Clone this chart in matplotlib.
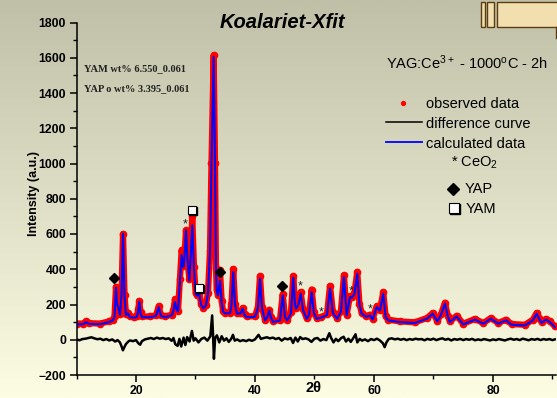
import numpy as np
import matplotlib
matplotlib.use("Agg")
import matplotlib.pyplot as plt
from matplotlib.patches import Rectangle
from matplotlib.lines import Line2D

plt.rcParams['font.family'] = ['Liberation Sans', 'DejaVu Sans']
plt.rcParams['mathtext.fontset'] = 'custom'
plt.rcParams['mathtext.rm'] = 'Liberation Sans'
plt.rcParams['mathtext.it'] = 'Liberation Sans:italic'
plt.rcParams['mathtext.bf'] = 'Liberation Sans:bold'

# ---------------- data ----------------
two_theta = [10.0, 11.1, 11.6, 12.1, 13.95, 15.46, 16.13, 16.39, 16.64, 16.81, 16.97, 17.31, 17.56, 17.82,
             18.07, 18.32, 18.66, 18.99, 19.66, 20.17, 20.39, 20.55, 20.76, 21.01, 22.35, 23.36, 23.82,
             24.2, 24.87, 26.0, 26.3, 26.55, 26.84, 27.06, 27.39, 27.68, 27.95, 28.12, 28.4, 28.66,
             28.96, 29.16, 29.46, 29.75, 30.03, 30.25, 30.59, 30.92, 31.31, 31.76, 32.1, 32.44, 32.69,
             33.06, 33.28, 33.45, 33.56, 33.78, 34.12, 34.4, 34.62, 34.96, 35.8, 36.05, 36.35, 36.64,
             36.97, 37.56, 37.93, 38.24, 38.61, 40.0, 40.5, 40.84, 41.18, 41.68, 42.1, 42.4, 42.69,
             43.08, 44.2, 44.66, 45.04, 45.43, 46.05, 46.44, 46.72, 46.89, 47.31, 47.68, 48.07, 48.69,
             49.08, 49.53, 49.92, 50.37, 51.09, 52.1, 52.61, 53.11, 53.83, 54.45, 54.96, 55.41, 55.97,
             56.3, 56.72, 57.19, 57.56, 57.93, 58.66, 59.33, 59.78, 60.45, 61.01, 61.56, 61.97, 62.4,
             64.37, 66.89, 68.96, 69.87, 70.64, 71.26, 71.93, 72.44, 72.77, 73.9, 75.01, 76.97, 78.37,
             79.66, 80.89, 82.18, 83.14, 85.38, 86.72, 87.34, 87.73, 88.18, 88.91, 89.58, 90.42]

calculated = [87, 88, 100, 90, 88, 100, 110, 130, 295, 200, 190, 140, 250, 602,
              250, 140, 150, 128, 125, 130, 170, 215, 150, 128, 128, 135, 185,
              135, 128, 138, 165, 214, 170, 160, 337, 480, 413, 450, 621, 450,
              337, 450, 649, 400, 260, 250, 265, 200, 178, 195, 260, 500, 1000,
              1605, 1000, 400, 280, 250, 337, 214, 160, 150, 150, 200, 384, 200,
              148, 150, 176, 140, 128, 130, 180, 347, 180, 110, 130, 166, 125,
              100, 110, 252, 130, 110, 150, 352, 200, 176, 200, 261, 170, 119,
              140, 270, 150, 119, 125, 140, 290, 150, 119, 160, 356, 138, 242,
              240, 260, 375, 200, 148, 130, 138, 115, 185, 166, 261, 128, 110,
              100, 95, 120, 148, 104, 140, 205, 130, 100, 132, 87, 114, 91,
              119, 91, 110, 85, 81, 110, 148, 120, 96, 114, 100, 72]

observed = [92, 92, 104, 94, 92, 104, 114, 134, 300, 205, 195, 144, 255, 600,
            255, 144, 154, 132, 129, 134, 175, 220, 155, 132, 132, 139, 190,
            139, 132, 142, 170, 230, 175, 165, 345, 510, 420, 455, 620, 455,
            345, 460, 700, 410, 265, 255, 290, 205, 182, 200, 265, 505, 1005,
            1615, 1005, 405, 285, 255, 393, 220, 165, 154, 154, 205, 400, 205,
            152, 154, 180, 144, 132, 134, 185, 360, 185, 114, 134, 170, 129,
            104, 114, 258, 134, 114, 155, 360, 205, 180, 205, 270, 175, 123,
            144, 285, 155, 123, 129, 144, 305, 155, 123, 165, 365, 142, 247,
            245, 265, 385, 205, 152, 134, 142, 119, 190, 170, 270, 132, 114,
            104, 99, 124, 152, 108, 144, 210, 134, 104, 136, 91, 118, 95,
            123, 95, 114, 89, 85, 114, 152, 124, 100, 118, 104, 76]

diff_x = [10.0, 10.5, 11.0, 11.5, 12.0, 12.5, 13.0, 13.5, 14.0, 14.5, 15.0, 15.5, 16.0, 16.5, 16.9,
          17.3, 17.6, 17.8, 18.0, 18.3, 18.7, 19.0, 19.5, 20.0, 20.4, 20.7, 21.0, 21.5, 22.0, 22.5,
          23.0, 23.5, 24.0, 24.5, 25.0, 25.5, 26.0, 26.3, 26.6, 27.0, 27.3, 27.6, 28.0, 28.3, 28.6,
          29.0, 29.4, 29.7, 30.0, 30.5, 31.0, 31.5, 32.0, 32.5, 32.8, 32.95, 33.1, 33.3, 33.6, 34.0,
          34.4, 34.8, 35.2, 35.6, 36.0, 36.3, 36.6, 37.0, 37.5, 38.0, 38.5, 39.0, 39.5, 40.0, 40.6,
          41.0, 41.5, 42.0, 42.5, 43.0, 43.5, 44.0, 44.5, 45.0, 45.5, 46.0, 46.4, 46.8, 47.2, 47.6,
          48.0, 48.5, 49.0, 49.5, 50.0, 50.5, 51.0, 51.5, 52.0, 52.5, 52.8, 53.2, 53.6, 54.0, 54.5,
          54.9, 55.3, 55.7, 56.1, 56.5, 56.9, 57.2, 57.6, 58.0, 58.5, 59.0, 59.5, 60.0, 60.5, 61.0,
          61.5, 61.8, 62.1, 62.5, 63.0, 63.5, 64.0, 64.5, 65.0, 65.5, 66.0, 66.5, 67.0, 67.5, 68.0,
          68.5, 69.0, 69.5, 70.0, 70.5, 71.0, 71.5, 72.0, 72.5, 73.0, 73.5, 74.0, 74.5, 75.0, 75.5,
          76.0, 76.5, 77.0, 77.5, 78.0, 78.5, 79.0, 79.5, 80.0, 80.5, 81.0, 81.5, 82.0, 82.5, 83.0,
          83.5, 84.0, 84.5, 85.0, 85.5, 86.0, 86.5, 87.0, 87.5, 88.0, 88.5, 89.0, 89.5, 90.0, 90.4]
difference = [2, -3, 4, 6, 10, 14, 8, 3, 6, -2, 4, -4, 2, -10, -2,
              -15, -40, -60, -45, -25, -10, -4, -8, -2, -20, -28, -8, 2, 6, 10,
              4, 12, 6, 10, 4, 8, -6, 10, -25, -35, 5, -38, 12, -30, 15,
              -10, 50, -5, 8, -15, 5, 12, -5, 20, 138, 30, -108, 10, 25, -15,
              20, -5, 8, -12, 5, 28, -5, 2, -8, -2, -8, 0, -6, 2, 28,
              5, 10, 14, 8, 12, 4, 10, -5, 8, 2, 10, -18, 12, -10, 15,
              4, 8, 2, -12, 6, 10, -5, 4, -2, 37, 10, -15, 5, -8, 10,
              17, -10, 6, -12, 8, 31, -15, 5, -5, 2, -8, 4, -2, 6, -4,
              -20, -42, -15, 5, 8, 2, 6, 0, 5, -2, 4, 0, 6, 2, 4,
              -3, 5, 0, 6, -2, 4, 8, 0, 5, -4, 4, 0, 5, -2, 4,
              0, 5, -3, 2, -2, 4, 0, -4, 2, -2, 4, 0, -4, 2, 6,
              0, 4, -2, 6, 2, -3, 4, 0, 5, -2, 4, 0, 4, -2, 2]

yap_x = [16.3, 34.1, 44.54]
yap_y = [350, 384, 305]
yam_x = [29.36, 30.6]
yam_y = [739, 295]
ceo2_x = [28.35, 47.56, 51.09, 56.14, 59.33]
ceo2_y = [653, 305, 157, 276, 170]

xticks_major = [20, 40, 60, 80]
yticks_major = [-200, 0, 200, 400, 600, 800, 1000, 1200, 1400, 1600, 1800]

# ---------------- figure ----------------
W, H = 557, 398
fig = plt.figure(figsize=(W / 100, H / 100), dpi=100)

def fx(px):
    return px / W

def fy(py):
    return 1 - py / H

# background gradient
bg = fig.add_axes([0, 0, 1, 1], zorder=-10)
top = np.array([192, 192, 168]) / 255
bot = np.array([253, 253, 228]) / 255
t = np.linspace(0, 1, 256)[:, None]
grad = (top[None, :] * (1 - t) + bot[None, :] * t)[:, None, :]
bg.imshow(grad, aspect='auto', extent=[0, 1, 0, 1])
bg.set_axis_off()

ax = fig.add_axes([fx(76.5), fy(375), fx(556) - fx(76.5), fy(22.5) - fy(375)])
ax.set_facecolor('none')
ax.set_xlim(10, 90.6)
ax.set_ylim(-200, 1800)

ax.plot(two_theta, observed, color='#ff0000', lw=4.5, solid_capstyle='round',
        solid_joinstyle='round', zorder=2)
ax.plot(two_theta, observed, 'o', color='#ff0000', ms=4.5, zorder=2)
ax.plot(two_theta, calculated, color='#0000ff', lw=1.5, zorder=4)
ax.plot(diff_x, difference, color='black', lw=1.8, zorder=4)

# phase markers
ax.plot(yap_x, yap_y, 'D', color='black', ms=5, zorder=5)
shadow = ax.transData + matplotlib.transforms.ScaledTranslation(1 / 100, -1 / 100, fig.dpi_scale_trans)
for x, y in zip(yam_x, yam_y):
    ax.plot([x], [y], 's', color='black', ms=6, zorder=5, transform=shadow)
    ax.plot([x], [y], 's', mfc='white', mec='black', mew=0.8, ms=6, zorder=6)
for x, y in zip(ceo2_x, ceo2_y):
    ax.text(x, y, '*', ha='center', va='center', fontsize=9, color='#222222', zorder=6)

for s in ['top', 'right']:
    ax.spines[s].set_visible(False)
for s in ['left', 'bottom']:
    ax.spines[s].set_linewidth(1.1)

ax.set_xticks(xticks_major)
ax.set_xticks([10, 30, 50, 70, 90], minor=True)
ax.set_yticks(yticks_major)
ax.set_yticks(np.arange(-100, 1800, 200), minor=True)
ax.tick_params(which='major', direction='out', length=5, width=1.1, pad=2.5, labelsize=8.8)
ax.tick_params(which='minor', direction='out', length=3, width=1.0)
for lab in ax.get_xticklabels() + ax.get_yticklabels():
    lab.set_fontweight('bold')

# texts
fig.text(fx(282), fy(22), 'Koalariet-Xfit', ha='center', va='center', fontsize=14.5,
         fontweight='bold', fontstyle='italic')
fig.text(fx(34), fy(194), 'Intensity (a.u.)', rotation=90, ha='center', va='center',
         fontsize=9, fontweight='bold')
fig.text(fx(313.5), fy(388), '2θ', ha='center', va='center', fontsize=10.5, fontweight='bold')

fig.text(fx(84), fy(69), 'YAM wt% 6.550_0.061', ha='left', va='center', fontsize=7.5,
         fontweight='bold', family=['Liberation Serif', 'DejaVu Serif'], color='#222222')
fig.text(fx(84), fy(89), 'YAP o wt% 3.395_0.061', ha='left', va='center', fontsize=7.5,
         fontweight='bold', family=['Liberation Serif', 'DejaVu Serif'], color='#222222')

# legend-like block
fs = 10.5
fig.text(fx(386), fy(68.5), r'YAG:Ce$^{3+}$ - 1000$^{\mathrm{o}}$C - 2h', ha='left', va='baseline', fontsize=fs)
fig.add_artist(Line2D([fx(403)], [fy(103)], marker='o', color='red', ms=2.8, lw=0))
fig.text(fx(425.7), fy(107.7), 'observed data', ha='left', va='baseline', fontsize=fs)
fig.add_artist(Line2D([fx(385.7), fx(421.7)], [fy(122.3), fy(122.3)], color='black', lw=1.1))
fig.text(fx(425.7), fy(128.2), 'difference curve', ha='left', va='baseline', fontsize=fs)
fig.add_artist(Line2D([fx(385.7), fx(421.7)], [fy(142.3), fy(142.3)], color='blue', lw=1.3))
fig.text(fx(425.7), fy(148.3), 'calculated data', ha='left', va='baseline', fontsize=fs)
fig.text(fx(451), fy(166.7), r'* CeO$_{2}$', ha='left', va='baseline', fontsize=fs)
fig.add_artist(Line2D([fx(452.7)], [fy(188.7)], marker='D', color='black', ms=6.5, lw=0))
fig.text(fx(465), fy(193.3), 'YAP', ha='left', va='baseline', fontsize=fs)
fig.add_artist(Line2D([fx(455)], [fy(209.3)], marker='s', color='black', ms=7, lw=0))
fig.add_artist(Line2D([fx(454)], [fy(208.3)], marker='s', mfc='white', mec='black', mew=0.8, ms=7, lw=0))
fig.text(fx(466), fy(213.3), 'YAM', ha='left', va='baseline', fontsize=fs)

# top-right clipped window shapes
fill = '#f2dfb0'
edge = '#5c3d12'
for x0, x1 in [(481, 485), (487, 494), (496.7, 570)]:
    fig.add_artist(Rectangle((fx(x0), fy(27.3)), fx(x1) - fx(x0), fy(2.3) - fy(27.3),
                             facecolor=fill, edgecolor=edge, lw=1.0))
fig.add_artist(Line2D([fx(556), fx(556)], [fy(27.3), fy(38)], color=edge, lw=1.0))

fig.savefig('out.png', dpi=100)
